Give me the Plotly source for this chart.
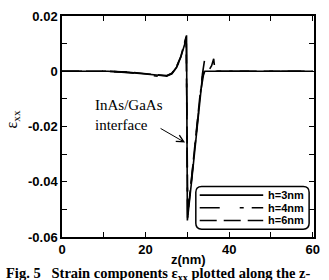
import plotly.graph_objects as go
import re

# ---- data ----
z_h3 = [0, 11, 16, 20, 23, 25, 26.3, 27.4, 28.4, 29.3, 29.8, 30.0, 31.0, 32.0, 33.0, 33.6, 34.2, 60]
e_h3 = [0, 0, -0.0004, -0.0011, -0.0016, -0.0017, -0.0008, 0.0015, 0.005, 0.0095, 0.013, -0.054, -0.040, -0.026, -0.010, -0.002, 0, 0]

z_h4 = [0, 11, 16, 20, 23, 25, 26.3, 27.4, 28.4, 29.3, 29.75, 30.05, 31, 32, 33, 33.6, 34.1, 35.0, 35.5, 60]
e_h4 = [0, 0, -0.0005, -0.0012, -0.0018, -0.0018, -0.0009, 0.0013, 0.0048, 0.0092, 0.0122, -0.053, -0.039, -0.025, -0.010, -0.001, 0.004, 0.001, 0, 0]

z_h6 = [0, 11, 16, 20, 23, 25, 26.3, 27.4, 28.4, 29.3, 29.7, 30.1, 31, 32, 33, 34, 35, 35.8, 36.3, 36.6, 60]
e_h6 = [0, 0, -0.0003, -0.001, -0.0015, -0.0016, -0.0007, 0.0016, 0.0052, 0.0097, 0.0125, -0.052, -0.038, -0.024, -0.009, 0.0, 0.0, 0.002, 0.0045, 0, 0]

series = [
    ("h=3nm", z_h3, e_h3, "solid"),
    ("h=4nm", z_h4, e_h4, "20px,20px,4px,8px"),
    ("h=6nm", z_h6, e_h6, "17px,7px"),
]

x_ticks = [0, 20, 40, 60]
y_ticks = [-0.06, -0.04, -0.02, 0, 0.02]
y_ticklabels = ["-0.06", "-0.04", "-0.02", "0", "0.02"]

W, H = 329, 280
L, R, T, B = 62, 9, 10, 43
pw, ph = W - L - R, H - T - B

def px(x):  # pixel x -> paper
    return (x - L) / pw

def py(y):  # pixel y -> paper
    return (H - B - y) / ph

fig = go.Figure()
for name, zs, es, dash in series:
    fig.add_trace(go.Scatter(x=zs, y=es, mode="lines", name=name,
                             line=dict(color="black", width=1.6, dash=dash),
                             showlegend=False))

tickfont = dict(family="Liberation Sans, Arial", size=13, color="black")
axis_common = dict(showline=True, linecolor="black", linewidth=1.5, mirror="allticks",
                   ticks="inside", ticklen=5, tickwidth=1.3, tickcolor="black",
                   showgrid=False, zeroline=False, tickfont=tickfont)

fig.update_xaxes(range=[0, 60.3], tickvals=x_ticks, ticktext=[f"<b>{v}</b>" for v in x_ticks],
                 minor=dict(ticks="inside", dtick=10, tick0=0, ticklen=5, tickcolor="black", tickwidth=1.3),
                 **axis_common)
fig.update_yaxes(range=[-0.06, 0.02], tickvals=y_ticks, ticktext=[f"<b>{t}</b>" for t in y_ticklabels],
                 minor=dict(ticks="inside", dtick=0.01, tick0=0, ticklen=5, tickcolor="black", tickwidth=1.3),
                 **axis_common)

# manual legend with rounded box
box_x0, box_x1, box_y0, box_y1 = 199, 315, 185, 229
r = 6
path = (f"M {box_x0 + r},{box_y0} L {box_x1 - r},{box_y0} Q {box_x1},{box_y0} {box_x1},{box_y0 + r} "
        f"L {box_x1},{box_y1 - r} Q {box_x1},{box_y1} {box_x1 - r},{box_y1} "
        f"L {box_x0 + r},{box_y1} Q {box_x0},{box_y1} {box_x0},{box_y1 - r} "
        f"L {box_x0},{box_y0 + r} Q {box_x0},{box_y0} {box_x0 + r},{box_y0} Z")
def conv(m):
    a, b = float(m.group(1)), float(m.group(2))
    return f"{px(a):.5f},{py(b):.5f}"
path_paper = re.sub(r"([\d.]+),([\d.]+)", conv, path)
fig.add_shape(type="path", path=path_paper, xref="paper", yref="paper",
              line=dict(color="black", width=1.5), fillcolor="white", layer="above")

rows = [194, 207, 220]
for (name, zs, es, dash), ry in zip(series, rows):
    fig.add_shape(type="line", xref="paper", yref="paper",
                  x0=px(203), x1=px(268), y0=py(ry), y1=py(ry),
                  line=dict(color="black", width=1.6, dash=dash), layer="above")
    fig.add_annotation(xref="paper", yref="paper", x=px(271), y=py(ry), text=f"<b>{name}</b>",
                       showarrow=False, xanchor="left", yanchor="middle",
                       font=dict(family="Liberation Sans, Arial", size=11, color="black"))

# annotation with arrow
fig.add_annotation(xref="paper", yref="paper", x=px(94), y=py(112),
                   text="InAs/GaAs<br>interface", showarrow=False, align="left",
                   xanchor="left", yanchor="middle",
                   font=dict(family="Liberation Serif, Times New Roman", size=15, color="black"))
fig.add_annotation(xref="paper", yref="paper", x=px(188), y=py(140), ax=-26, ay=-15,
                   axref="pixel", ayref="pixel", text="", showarrow=True,
                   arrowhead=5, arrowsize=1.4, arrowwidth=1, arrowcolor="black")

# axis titles
fig.add_annotation(xref="paper", yref="paper", x=px(191), y=py(260), text="<b>z(nm)</b>",
                   showarrow=False, xanchor="center", yanchor="middle",
                   font=dict(family="Liberation Sans, Arial", size=13, color="black"))
fig.add_annotation(xref="paper", yref="paper", x=px(11), y=py(116), text="ε<sub>xx</sub>",
                   showarrow=False, textangle=-90, xanchor="center", yanchor="middle",
                   font=dict(family="Liberation Serif, Times New Roman", size=16, color="black"))
# caption (cut off at bottom like the reference)
fig.add_annotation(xref="paper", yref="paper", x=px(3), y=py(275.5),
                   text="<b>Fig. 5   Strain components ε<sub>xx</sub> plotted along the z-</b>",
                   showarrow=False, xanchor="left", yanchor="middle",
                   font=dict(family="Liberation Serif, Times New Roman", size=14.5, color="black"))

fig.update_layout(width=W, height=H, margin=dict(l=L, r=R, t=T, b=B),
                  paper_bgcolor="white", plot_bgcolor="white", showlegend=False)

fig.write_html("out.html")
